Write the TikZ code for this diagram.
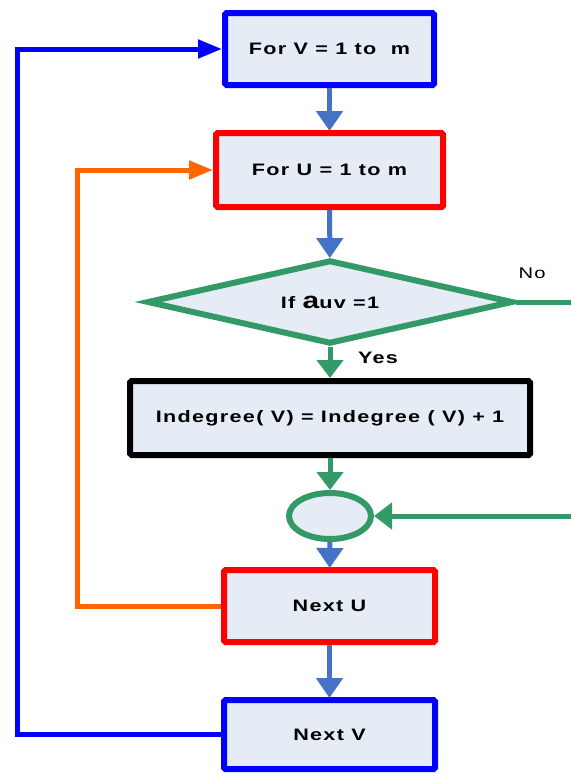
\documentclass[tikz,border=0pt]{standalone}
\usepackage{fontspec}
\setmainfont{Liberation Sans}
\newfontfamily\widesans[FakeStretch=1.3,LetterSpace=8]{Liberation Sans}
\usetikzlibrary{arrows.meta,shapes.geometric}
\definecolor{boxfill}{RGB}{230,236,246}
\definecolor{flowblue}{RGB}{68,114,196}
\definecolor{loopgreen}{RGB}{51,153,102}
\definecolor{looporange}{RGB}{255,102,0}
\tikzset{
  txt/.style={font=\widesans\bfseries\fontsize{16.6}{19}\selectfont},
  box/.style={draw, rectangle, fill=boxfill, line width=6pt, rounded corners=1.5pt,
    inner sep=0pt, txt},
  flow/.style={draw=flowblue, line width=5pt,
    -{Triangle[width=26pt,length=20pt]}, shorten >=-1pt},
  gflow/.style={draw=loopgreen, line width=5pt,
    -{Triangle[width=26pt,length=18pt]}},
  backloop/.style={line width=5pt, -{Triangle[width=18pt,length=24pt]}}
}
\begin{document}
\begin{tikzpicture}[x=1pt,y=-1pt]
\useasboundingbox (0,0) rectangle (571,774);

% loop headers and body
\node[box, draw=blue, minimum width=209pt, minimum height=72pt] (V) at (329.5,49) {For V = 1 to\ \ m};
\node[box, draw=red, minimum width=227pt, minimum height=74pt] (U) at (329.5,170) {For U = 1 to m};
\node[draw=loopgreen, fill=boxfill, line width=6pt, diamond, aspect=4.36, inner sep=0pt,
  minimum width=366pt, minimum height=84pt, txt]
  (C) at (330,302) {If {\fontsize{23}{23}\selectfont a}uv =1};
\node[box, draw=black, minimum width=400pt, minimum height=74pt] (I) at (330,418)
  {Indegree( V) = Indegree ( V) + 1};
\node[draw=loopgreen, fill=boxfill, line width=6pt, ellipse, inner sep=0pt,
  minimum width=82pt, minimum height=46pt] (J) at (330,516) {};
\node[box, draw=red, minimum width=211pt, minimum height=72pt] (NU) at (329.5,606) {Next U};
\node[box, draw=blue, minimum width=211pt, minimum height=69pt] (NV) at (329.5,734.5) {Next V};

% free ends of the "No" branch
\coordinate (noout) at (571,302);
\coordinate (noin) at (571,516);

% main flow
\draw[flow] (V) -- (U);
\draw[flow] (U) -- (C);
\draw[gflow] (C) -- (I);
\draw[gflow] (I) -- (J);
\draw[flow] (J) -- (NU);
\draw[flow] (NU) -- (NV);

% "No" branch rejoining at the junction
\draw[draw=loopgreen, line width=5pt] (C.east) -- (noout);
\draw[gflow] (noin) -- (J);

% loop-back connectors
\draw[backloop, draw=looporange] (NU.west) -- +(-144,0) |- (U.west);
\draw[backloop, draw=blue] (NV.west) -- +(-204,0) |- (V.west);

% labels
\node[font=\widesans\fontsize{15.5}{17}\selectfont, anchor=center] (no) at (532,273) {No};
\node[txt, anchor=center] (yes) at (378,358) {Yes};
\end{tikzpicture}
\end{document}
